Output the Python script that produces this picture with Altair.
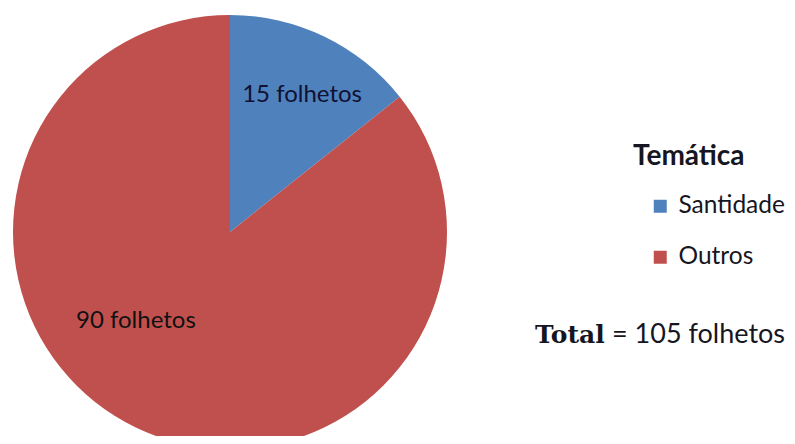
import altair as alt
import pandas as pd

categories = ["Santidade", "Outros"]
values = [15, 90]
labels = ["15 folhetos", "90 folhetos"]
colors = ["#4F81BD", "#C0504D"]
legend_title = "Temática"
total_word = "Total"
total_rest = "= 105 folhetos"

df = pd.DataFrame({"cat": categories, "val": values, "label": labels, "idx": list(range(len(categories)))})

CX, CY, R = 222, 224, 217
FONT = "Lato"
TXT = "#161622"

base = alt.Chart(df).transform_window(
    end="sum(val)", sort=[alt.SortField("idx")], frame=[None, 0]
).transform_calculate(
    start="datum.end - datum.val", mid="datum.end - datum.val/2"
)

theta_scale = alt.Scale(domain=[0, sum(values)])
color_scale = alt.Scale(domain=categories, range=colors)

pie = base.mark_arc(radius=R, stroke=None).encode(
    theta=alt.Theta("start:Q", scale=theta_scale),
    theta2="end:Q",
    color=alt.Color("cat:N", scale=color_scale, title=None,
                    legend=alt.Legend(orient="none", legendX=640, legendY=186,
                                      symbolType="square", symbolSize=169,
                                      symbolStrokeWidth=0, padding=0,
                                      labelFont=FONT, labelFontSize=24.5, labelColor=TXT,
                                      rowPadding=26, labelOffset=6)),
    x=alt.value(CX), y=alt.value(CY),
)

lab15 = base.transform_filter(alt.datum.idx == 0).mark_text(
    radius=150, font=FONT, fontSize=24, color="#111133", baseline="middle", dx=7, dy=-2
).encode(theta=alt.Theta("mid:Q", scale=theta_scale), text="label:N",
         x=alt.value(CX), y=alt.value(CY))

lab90 = base.transform_filter(alt.datum.idx == 1).mark_text(
    radius=127, font=FONT, fontSize=24, color="#111111", baseline="middle", dx=-39, dy=-25
).encode(theta=alt.Theta("mid:Q", scale=theta_scale), text="label:N",
         x=alt.value(CX), y=alt.value(CY))

title_df = pd.DataFrame({"t": [legend_title]})
title = alt.Chart(title_df).mark_text(font=FONT, fontSize=28, fontWeight="bold",
                                      color=TXT, align="left", baseline="alphabetic").encode(
    text="t:N", x=alt.value(625), y=alt.value(157))

tot_df = pd.DataFrame({"a": [total_word], "b": [total_rest]})
tot1 = alt.Chart(tot_df).mark_text(font="DejaVu Serif", fontSize=25, fontWeight="bold",
                                   color=TXT, align="left", baseline="alphabetic").encode(
    text="a:N", x=alt.value(527), y=alt.value(335))
tot2 = alt.Chart(tot_df).mark_text(font=FONT, fontSize=27, color=TXT,
                                   align="left", baseline="alphabetic").encode(
    text="b:N", x=alt.value(604), y=alt.value(335))

chart = alt.layer(pie, lab15, lab90, title, tot1, tot2).properties(
    width=779, height=428, autosize=alt.AutoSizeParams(type="none"), padding=0
).configure_view(stroke=None)

chart.save("out.html", embed_options={"renderer": "svg", "actions": False})
